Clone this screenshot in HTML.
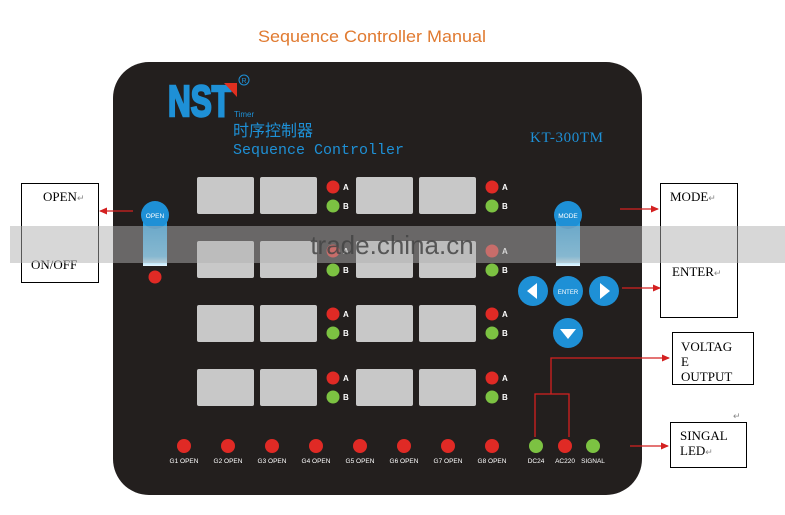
<!DOCTYPE html>
<html><head><meta charset="utf-8"><style>
html,body{margin:0;padding:0;background:#fff;width:785px;height:515px;overflow:hidden}
svg{display:block}
</style></head><body>
<svg width="785" height="515" viewBox="0 0 785 515" xmlns="http://www.w3.org/2000/svg">
<defs>
<marker id="ar" markerWidth="8" markerHeight="8" refX="7" refY="4" orient="auto" markerUnits="userSpaceOnUse"><path d="M0,0.5 L8,4 L0,7.5 Z" fill="#d42020"/></marker>
<linearGradient id="glow" x1="0" y1="0" x2="0" y2="1"><stop offset="0" stop-color="#1e9be0"/><stop offset="0.8" stop-color="#5cc0f0"/><stop offset="1" stop-color="#eaf8ff"/></linearGradient>
</defs>
<text x="258" y="42" font-family="Liberation Sans, sans-serif" font-size="17" fill="#e07a30" textLength="228" lengthAdjust="spacingAndGlyphs">Sequence Controller Manual</text>
<rect x="113" y="62" width="529" height="433" rx="36" fill="#231f1e"/>
<!-- logo -->
<text x="168" y="116" font-family="Liberation Sans, sans-serif" font-weight="bold" font-size="44" fill="#1e90d6" stroke="#1e90d6" stroke-width="2.5" textLength="63" lengthAdjust="spacingAndGlyphs">NST</text>
<path d="M224,83 L237,83 L237,97 Z" fill="#e03020"/>
<circle cx="244" cy="80" r="5" fill="none" stroke="#1e90d6" stroke-width="1"/>
<text x="244" y="83" text-anchor="middle" font-family="Liberation Sans, sans-serif" font-size="7" fill="#1e90d6">R</text>
<text x="234" y="117" font-family="Liberation Sans, sans-serif" font-size="8" fill="#1e90d6">Timer</text>
<text x="233" y="136" font-family="Liberation Sans, 'Noto Sans CJK SC', sans-serif" font-size="16" fill="#1e90d6">时序控制器</text>
<text x="233" y="154" font-family="Liberation Mono, monospace" font-size="15" fill="#1e90d6">Sequence Controller</text>
<text x="530" y="142" font-family="Liberation Serif, serif" font-size="15" fill="#1e90d6" textLength="73">KT-300TM</text>
<!-- displays -->
<g fill="#c8c8c8">
<rect x="197" y="177" width="57" height="37" rx="2"/><rect x="260" y="177" width="57" height="37" rx="2"/><rect x="356" y="177" width="57" height="37" rx="2"/><rect x="419" y="177" width="57" height="37" rx="2"/>
<rect x="197" y="241" width="57" height="37" rx="2"/><rect x="260" y="241" width="57" height="37" rx="2"/><rect x="356" y="241" width="57" height="37" rx="2"/><rect x="419" y="241" width="57" height="37" rx="2"/>
<rect x="197" y="305" width="57" height="37" rx="2"/><rect x="260" y="305" width="57" height="37" rx="2"/><rect x="356" y="305" width="57" height="37" rx="2"/><rect x="419" y="305" width="57" height="37" rx="2"/>
<rect x="197" y="369" width="57" height="37" rx="2"/><rect x="260" y="369" width="57" height="37" rx="2"/><rect x="356" y="369" width="57" height="37" rx="2"/><rect x="419" y="369" width="57" height="37" rx="2"/>
</g>
<g font-family="Liberation Sans, sans-serif" font-size="8" font-weight="bold" fill="#fff">
<g id="ab"><circle cx="333" cy="187" r="6.5" fill="#e02a25"/><circle cx="333" cy="206" r="6.5" fill="#7cc242"/><text x="343" y="190">A</text><text x="343" y="209">B</text></g>
<use href="#ab" x="159"/>
<use href="#ab" y="64"/><use href="#ab" x="159" y="64"/>
<use href="#ab" y="127"/><use href="#ab" x="159" y="127"/>
<use href="#ab" y="191"/><use href="#ab" x="159" y="191"/>
</g>
<!-- buttons -->
<rect x="143" y="218" width="24" height="48" fill="url(#glow)"/>
<circle cx="155" cy="215" r="14" fill="#1e90d6"/>
<text x="155" y="218" text-anchor="middle" font-family="Liberation Sans, sans-serif" font-size="6.5" fill="#fff">OPEN</text>
<circle cx="155" cy="277" r="6.5" fill="#e02a25"/>
<rect x="556" y="218" width="24" height="48" fill="url(#glow)"/>
<circle cx="568" cy="215" r="14" fill="#1e90d6"/>
<text x="568" y="218" text-anchor="middle" font-family="Liberation Sans, sans-serif" font-size="6.5" fill="#fff">MODE</text>
<circle cx="533" cy="291" r="15" fill="#1e90d6"/><path d="M527,291 L537,283 L537,299 Z" fill="#fff"/>
<circle cx="568" cy="291" r="15" fill="#1e90d6"/><text x="568" y="294" text-anchor="middle" font-family="Liberation Sans, sans-serif" font-size="6" fill="#fff">ENTER</text>
<circle cx="604" cy="291" r="15" fill="#1e90d6"/><path d="M610,291 L600,283 L600,299 Z" fill="#fff"/>
<circle cx="568" cy="333" r="15" fill="#1e90d6"/><path d="M568,339 L560,329 L576,329 Z" fill="#fff"/>
<!-- bottom leds -->
<g font-family="Liberation Sans, sans-serif" font-size="6.5" fill="#fff" text-anchor="middle">
<circle cx="184" cy="446" r="7" fill="#e02a25"/><text x="184" y="463">G1 OPEN</text>
<circle cx="228" cy="446" r="7" fill="#e02a25"/><text x="228" y="463">G2 OPEN</text>
<circle cx="272" cy="446" r="7" fill="#e02a25"/><text x="272" y="463">G3 OPEN</text>
<circle cx="316" cy="446" r="7" fill="#e02a25"/><text x="316" y="463">G4 OPEN</text>
<circle cx="360" cy="446" r="7" fill="#e02a25"/><text x="360" y="463">G5 OPEN</text>
<circle cx="404" cy="446" r="7" fill="#e02a25"/><text x="404" y="463">G6 OPEN</text>
<circle cx="448" cy="446" r="7" fill="#e02a25"/><text x="448" y="463">G7 OPEN</text>
<circle cx="492" cy="446" r="7" fill="#e02a25"/><text x="492" y="463">G8 OPEN</text>
<circle cx="536" cy="446" r="7" fill="#7cc242"/><text x="536" y="463">DC24</text>
<circle cx="565" cy="446" r="7" fill="#e02a25"/><text x="565" y="463">AC220</text>
<circle cx="593" cy="446" r="7" fill="#7cc242"/><text x="593" y="463">SIGNAL</text>
</g>
<!-- connectors -->
<g stroke="#d42020" stroke-width="1.3" fill="none">
<path d="M535,437 L535,394 L569,394 L569,437"/>
<path d="M551,394 L551,358 L669,358" marker-end="url(#ar)"/>
<path d="M133,211 L100,211" marker-end="url(#ar)"/>
<path d="M620,209 L658,209" marker-end="url(#ar)"/>
<path d="M622,288 L660,288" marker-end="url(#ar)"/>
<path d="M630,446 L668,446" marker-end="url(#ar)"/>
</g>
<!-- boxes -->
<g fill="#fff" stroke="#000" stroke-width="1">
<rect x="21.5" y="183.5" width="77" height="99"/>
<rect x="660.5" y="183.5" width="77" height="134"/>
<rect x="672.5" y="332.5" width="81" height="52"/>
<rect x="670.5" y="422.5" width="76" height="45"/>
</g>
<g font-family="Liberation Serif, serif" font-size="13" fill="#000">
<text x="43" y="201">OPEN<tspan font-size="9" fill="#888">↵</tspan></text>
<text x="31" y="269">ON/OFF</text>
<text x="670" y="201">MODE<tspan font-size="9" fill="#888">↵</tspan></text>
<text x="672" y="276">ENTER<tspan font-size="9" fill="#888">↵</tspan></text>
<text x="681" y="351">VOLTAG</text>
<text x="681" y="366">E</text>
<text x="681" y="381">OUTPUT</text>
<rect x="673" y="381" width="80" height="3" fill="#fff"/>
<line x1="672.5" y1="384.5" x2="753.5" y2="384.5" stroke="#000" stroke-width="1"/>
<text x="680" y="440">SINGAL</text>
<text x="680" y="455">LED<tspan font-size="9" fill="#888">↵</tspan></text>
<text x="733" y="419" font-size="9" fill="#888">↵</text>
</g>
<!-- watermark band -->
<rect x="10" y="226" width="775" height="37" fill="rgb(175,175,175)" fill-opacity="0.5"/>
<text x="392" y="254" text-anchor="middle" font-family="Liberation Sans, sans-serif" font-size="26" fill="#444" fill-opacity="0.85">trade.china.cn</text>
</svg>
</body></html>
